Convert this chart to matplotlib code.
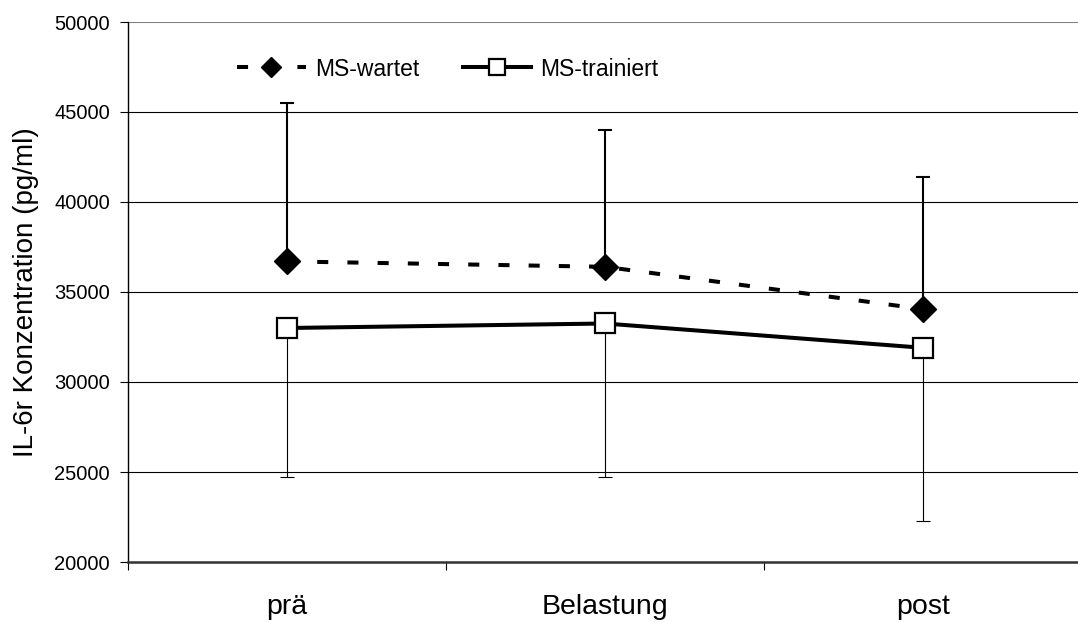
import matplotlib
matplotlib.use("Agg")
import matplotlib.pyplot as plt
import numpy as np

plt.rcParams['font.family'] = ['Liberation Sans', 'DejaVu Sans']

categories = ["prä", "Belastung", "post"]
wartet_mean = [36700, 36400, 34050]
wartet_err_up = [8800, 7600, 7350]
trainiert_mean = [33000, 33250, 31900]
trainiert_err_down = [8300, 8550, 9600]
series_labels = ["MS-wartet", "MS-trainiert"]
y_ticks = [20000, 25000, 30000, 35000, 40000, 45000, 50000]

fig = plt.figure(figsize=(10.78, 6.22), dpi=100)
ax = fig.add_axes([128/1078, 1 - 562/622, 954/1078, 540/622])
x = np.arange(len(categories))

# error bars
ax.errorbar(x, wartet_mean, yerr=[np.zeros(3), wartet_err_up], fmt='none',
            ecolor='black', elinewidth=1.5, capsize=5, capthick=1.5, zorder=3)
ax.errorbar(x, trainiert_mean, yerr=[trainiert_err_down, np.zeros(3)], fmt='none',
            ecolor='black', elinewidth=0.8, capsize=5, capthick=0.8, zorder=3)

ax.plot(x, wartet_mean, color='black', lw=2.9, linestyle=(0, (2.75, 4.75)),
        dash_capstyle='butt', marker='D', markersize=13, markerfacecolor='black',
        markeredgecolor='black', label=series_labels[0], zorder=4)
ax.plot(x, trainiert_mean, color='black', lw=2.9, linestyle='-',
        marker='s', markersize=14, markerfacecolor='white', markeredgecolor='black',
        markeredgewidth=1.6, label=series_labels[1], zorder=5)

ax.set_ylim(20000, 50000)
ax.set_xlim(-0.5, 2.5)
ax.set_yticks(y_ticks)
ax.set_yticklabels([str(v) for v in y_ticks], fontsize=14.5)
for v in y_ticks[1:-1]:
    ax.axhline(v, color='black', lw=0.8, zorder=1)
ax.axhline(50000, color='#808080', lw=1.5, zorder=1)

ax.set_xticks([-0.5, 0.5, 1.5, 2.5])
ax.set_xticklabels([])
ax.set_xticks(x, minor=True)
ax.set_xticklabels(categories, minor=True, fontsize=20.5)
ax.tick_params(axis='x', which='minor', length=0, pad=23)
ax.tick_params(axis='x', which='major', length=6, width=0.8, direction='out')
ax.tick_params(axis='y', length=6, width=0.8, direction='out', pad=7)

for s in ['top', 'right']:
    ax.spines[s].set_visible(False)
ax.spines['left'].set_linewidth(1.0)
ax.spines['bottom'].set_linewidth(1.8)
ax.spines['bottom'].set_color('#333333')

ax.set_ylabel("IL-6r Konzentration (pg/ml)", fontsize=20)
ax.yaxis.set_label_coords(-0.093, 0.5)

leg = ax.legend(loc='center left', bbox_to_anchor=((237 - 128) / 954, (562 - 69) / 540),
                ncol=2, frameon=False, fontsize=16.5, handlelength=3.0,
                handletextpad=0.4, columnspacing=1.9, borderpad=0, borderaxespad=0,
                markerscale=0.82)

fig.savefig("out.png", dpi=100)
